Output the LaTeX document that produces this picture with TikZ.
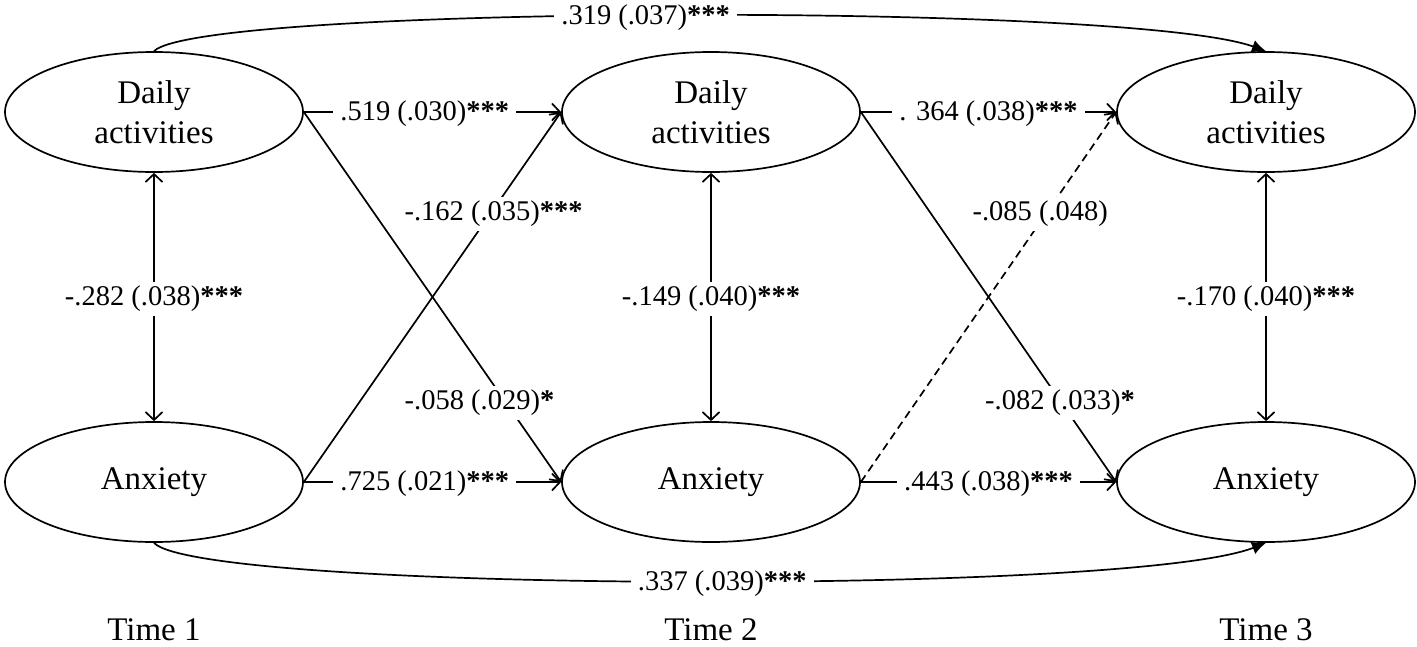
\documentclass[tikz,border=0pt]{standalone}
\usepackage{fontspec}
\setmainfont{Liberation Serif}
\usetikzlibrary{arrows.meta,shapes.geometric}

\def\sig{\textbf{***}}

\tikzset{
  latent/.style={ellipse, draw, line width=1.7pt, minimum width=298pt, minimum height=120pt, inner sep=0pt, align=center, font=\fontsize{33}{40}\selectfont},
  effect/.style={line width=1.7pt, -{Straight Barb[length=8pt,width=17pt,line width=1.7pt]}},
  cov/.style={line width=1.7pt, {Straight Barb[length=8pt,width=17pt,line width=1.7pt]}-{Straight Barb[length=8pt,width=17pt,line width=1.7pt]}},
  lag2/.style={line width=1.7pt, -{Latex[length=14pt,width=13pt]}},
  lbl/.style={fill=white, inner xsep=7pt, inner ysep=4pt, yshift=-2pt, font=\fontsize{28.5}{30}\selectfont},
  timelbl/.style={font=\fontsize{33}{36}\selectfont}
}

\begin{document}
\begin{tikzpicture}[x=1pt, y=-1pt]
\useasboundingbox (0,0) rectangle (1417,646);

% Latent variables
\node[latent] (da1) at (154,112) {Daily\\activities};
\node[latent] (ax1) at (154,482) {Anxiety};
\node[latent] (da2) at (711,112) {Daily\\activities};
\node[latent] (ax2) at (711,482) {Anxiety};
\node[latent] (da3) at (1266,112) {Daily\\activities};
\node[latent] (ax3) at (1266,482) {Anxiety};

% Time labels
\node[timelbl] (t1) at (154,630) {Time 1};
\node[timelbl] (t2) at (711,630) {Time 2};
\node[timelbl] (t3) at (1266,630) {Time 3};

% Covariances
\draw[cov] (da1.south) -- node[lbl] {-.282 (.038)\sig} (ax1.north);
\draw[cov] (da2.south) -- node[lbl] {-.149 (.040)\sig} (ax2.north);
\draw[cov] (da3.south) -- node[lbl] {-.170 (.040)\sig} (ax3.north);

% Time 1 -> Time 2
\draw[effect] (da1.east) -- node[lbl, pos=0.47] {.519 (.030)\sig} (da2.west);
\draw[effect] (ax1.east) -- node[lbl, pos=0.47] {.725 (.021)\sig} (ax2.west);
\draw[effect] (da1.east) -- node[lbl, pos=0.78, xshift=-25pt] {-.058 (.029)\textbf{*}} (ax2.west);
\draw[effect] (ax1.east) -- node[lbl, pos=0.73, inner xsep=4pt, xshift=2pt] {-.162 (.035)\sig} (da2.west);

% Time 2 -> Time 3
\draw[effect] (da2.east) -- node[lbl, pos=0.5] {. 364 (.038)\sig} (da3.west);
\draw[effect] (ax2.east) -- node[lbl, pos=0.5] {.443 (.038)\sig} (ax3.west);
\draw[effect] (da2.east) -- node[lbl, pos=0.78] {-.082 (.033)\textbf{*}} (ax3.west);
\draw[effect, dash pattern=on 8pt off 5pt] (ax2.east) -- node[lbl, pos=0.73, xshift=-7pt] {-.085 (.048)} (da3.west);

% Time 1 -> Time 3
\draw[lag2] (da1.north) .. controls (200,5) and (1130,2) .. node[lbl, pos=0.48] {.319 (.037)\sig} (da3.north);
\draw[lag2] (ax1.south) .. controls (200,592) and (1130,596) .. node[lbl, pos=0.53] {.337 (.039)\sig} (ax3.south);

\end{tikzpicture}
\end{document}
